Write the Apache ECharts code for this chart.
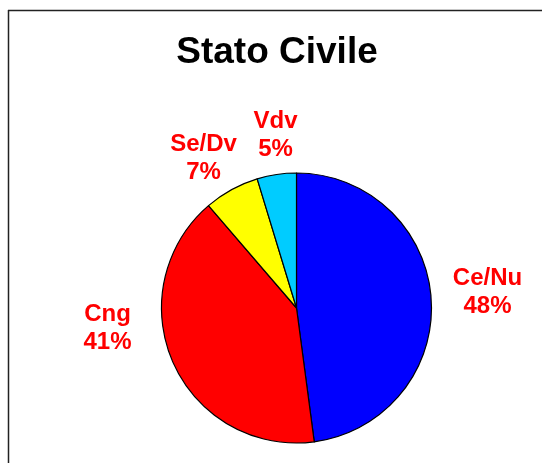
<!DOCTYPE html>
<html>
<head>
<meta charset="utf-8">
<script src="https://cdn.jsdelivr.net/npm/echarts@6/dist/echarts.min.js"></script>
<style>
html,body{margin:0;padding:0;background:#fff;}
#chart{width:542px;height:463px;}
</style>
</head>
<body>
<div id="chart"></div>
<script>
var categories = ['Ce/Nu', 'Cng', 'Se/Dv', 'Vdv'];
var values = [47.9, 40.8, 6.6, 4.7];
var sliceColors = ['#0000FF', '#FF0000', '#FFFF00', '#00CCFF'];
// label block centres, relative to pie centre (annotation placement)
var labelOffsets = [[191, -16], [-189, 20], [-93, -150], [-21, -173]];

var cx = 296.5, cy = 308;
var chart = echarts.init(document.getElementById('chart'), null, {renderer: 'canvas'});
chart.setOption({
  animation: false,
  backgroundColor: '#ffffff',
  title: {
    text: 'Stato Civile',
    left: 272,
    top: 29,
    textAlign: 'center',
    textStyle: {
      fontFamily: 'Liberation Sans, Arial, sans-serif',
      fontWeight: 'bold',
      fontSize: 37,
      color: '#000'
    }
  },
  graphic: [
    {type: 'line', shape: {x1: 8, y1: 10.5, x2: 542, y2: 10.5}, style: {stroke: '#222', lineWidth: 1.5}, z: 10},
    {type: 'line', shape: {x1: 8.5, y1: 10, x2: 8.5, y2: 463}, style: {stroke: '#222', lineWidth: 1.5}, z: 10}
  ],
  series: [{
    type: 'pie',
    center: [cx, cy],
    radius: 135,
    startAngle: 90,
    clockwise: true,
    data: categories.map(function (c, i) {
      return {name: c, value: values[i], itemStyle: {color: sliceColors[i]}};
    }),
    itemStyle: {borderColor: '#000', borderWidth: 1.2},
    emphasis: {disabled: true},
    labelLine: {show: false},
    label: {
      show: true,
      position: 'outside',
      overflow: 'none',
      formatter: function (p) { return p.name + '\n' + Math.round(p.value) + '%'; },
      fontFamily: 'Liberation Sans, Arial, sans-serif',
      fontWeight: 'bold',
      fontSize: 24,
      lineHeight: 28,
      color: '#FF0000',
      align: 'center'
    },
    labelLayout: function (params) {
      var o = labelOffsets[params.dataIndex];
      return {x: cx + o[0], y: cy + o[1], align: 'center', verticalAlign: 'middle', width: 200};
    }
  }]
});
</script>
</body>
</html>
